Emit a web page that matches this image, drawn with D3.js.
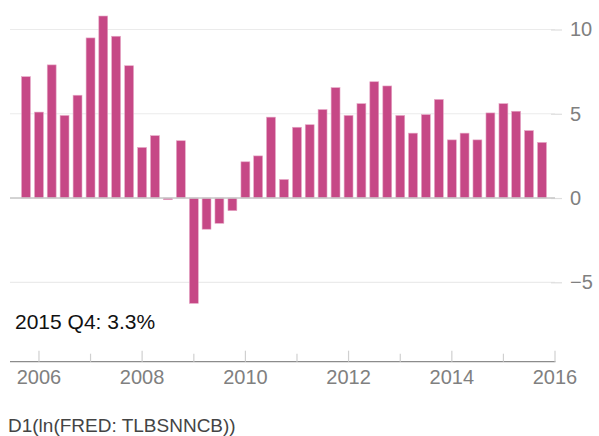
<!DOCTYPE html>
<html>
<head>
<meta charset="utf-8">
<script src="https://cdn.jsdelivr.net/npm/d3@7"></script>
<style>
  body { margin: 0; background: #fff; }
  svg { display: block; font-family: "Liberation Sans", Arial, sans-serif; }
</style>
</head>
<body>
<div id="vis"></div>
<script>
//-- Data: quarterly values, 2005 Q4 .. 2015 Q4
var startYear = 2005, startQuarter = 4;
var values = [7.2, 5.1, 7.9, 4.9, 6.1, 9.5, 10.8, 9.6, 7.85, 3.0,
              3.7, -0.1, 3.4, -6.25, -1.85, -1.5, -0.75, 2.15, 2.5, 4.8,
              1.1, 4.2, 4.35, 5.25, 6.55, 4.9, 5.6, 6.9, 6.65, 4.9,
              3.85, 4.95, 5.85, 3.45, 3.85, 3.45, 5.05, 5.6, 5.15, 4.0,
              3.3];
var yTicks = [-5, 0, 5, 10];
var xYears = [2006, 2007, 2008, 2009, 2010, 2011, 2012, 2013, 2014, 2015, 2016];
var lastLabel = "2015 Q4: 3.3%";
var seriesName = "D1(ln(FRED: TLBSNNCB))";

//-- Setup
var width = 599;
var height = 436;

var data = values.map(function (v, i) {
  var q = startQuarter - 1 + i;
  return { date: new Date(startYear + Math.floor(q / 4), (q % 4) * 3, 1), value: v };
});

var svg = d3.select("#vis").append("svg")
  .attr("width", width)
  .attr("height", height)
  .attr("viewBox", [0, 0, width, height]);

var x = d3.scaleTime()
  .domain([new Date(2005, 5, 10), new Date(2016, 0, 1)])
  .range([10, 555]);

var y = d3.scaleLinear()
  .domain([-5, 10])
  .range([282.3, 29.5]);

var step = x(new Date(2006, 3, 1)) - x(new Date(2006, 0, 1));
var barW = step * 0.7;

// grid lines
svg.append("g")
  .selectAll("line")
  .data(yTicks)
  .enter()
  .append("line")
  .attr("x1", 10)
  .attr("x2", 555)
  .attr("y1", function (d) { return y(d); })
  .attr("y2", function (d) { return y(d); })
  .attr("stroke", "#ebebeb")
  .attr("stroke-width", 1.2);

// right axis
var yAxis = svg.append("g")
  .attr("transform", "translate(551,0)")
  .call(d3.axisRight(y).tickValues(yTicks).tickSize(11).tickPadding(8)
    .tickFormat(function (d) { return d < 0 ? "\u2212" + Math.abs(d) : d; }));
yAxis.select(".domain").remove();
yAxis.selectAll("line").attr("stroke", "#dedede").attr("stroke-width", 1.2);
yAxis.selectAll("text")
  .attr("fill", "#808080")
  .attr("font-size", 20)
  .attr("font-family", "Liberation Sans, Arial, sans-serif");

// bars
svg.append("g")
  .selectAll("rect")
  .data(data)
  .enter()
  .append("rect")
  .attr("x", function (d) { return x(d.date) - barW / 2; })
  .attr("width", barW)
  .attr("y", function (d) { return y(Math.max(0, d.value)); })
  .attr("height", function (d) { return Math.abs(y(d.value) - y(0)); })
  .attr("fill", "#c64886")
  .attr("stroke", "#e6a8c6")
  .attr("stroke-width", 0.6);

// zero line
svg.append("line")
  .attr("x1", 10)
  .attr("x2", 555)
  .attr("y1", y(0))
  .attr("y2", y(0))
  .attr("stroke", "#c8c8c8")
  .attr("stroke-width", 1.5);

// bottom axis
var xAxis = svg.append("g")
  .attr("transform", "translate(0,361.7)");
xAxis.append("line")
  .attr("x1", 10)
  .attr("x2", 555.5)
  .attr("stroke", "#8c8c8c")
  .attr("stroke-width", 1.2);
xAxis.selectAll(".tick")
  .data(xYears)
  .enter()
  .append("line")
  .attr("x1", function (d) { return x(new Date(d, 0, 1)); })
  .attr("x2", function (d) { return x(new Date(d, 0, 1)); })
  .attr("y1", function (d) { return d % 2 === 0 ? -11 : -8; })
  .attr("y2", 0)
  .attr("stroke", "#d0d0d0")
  .attr("stroke-width", 1.2);
xAxis.selectAll("text")
  .data(xYears.filter(function (d) { return d % 2 === 0; }))
  .enter()
  .append("text")
  .attr("x", function (d) { return x(new Date(d, 0, 1)); })
  .attr("y", 22.5)
  .attr("text-anchor", "middle")
  .attr("fill", "#808080")
  .attr("font-size", 20)
  .text(function (d) { return d; });

// last value label
svg.append("text")
  .attr("x", 15)
  .attr("y", 329)
  .attr("fill", "#111")
  .attr("font-size", 21)
  .text(lastLabel);

// series name
svg.append("text")
  .attr("x", 8)
  .attr("y", 432)
  .attr("fill", "#444")
  .attr("font-size", 19)
  .text(seriesName);
</script>
</body>
</html>
